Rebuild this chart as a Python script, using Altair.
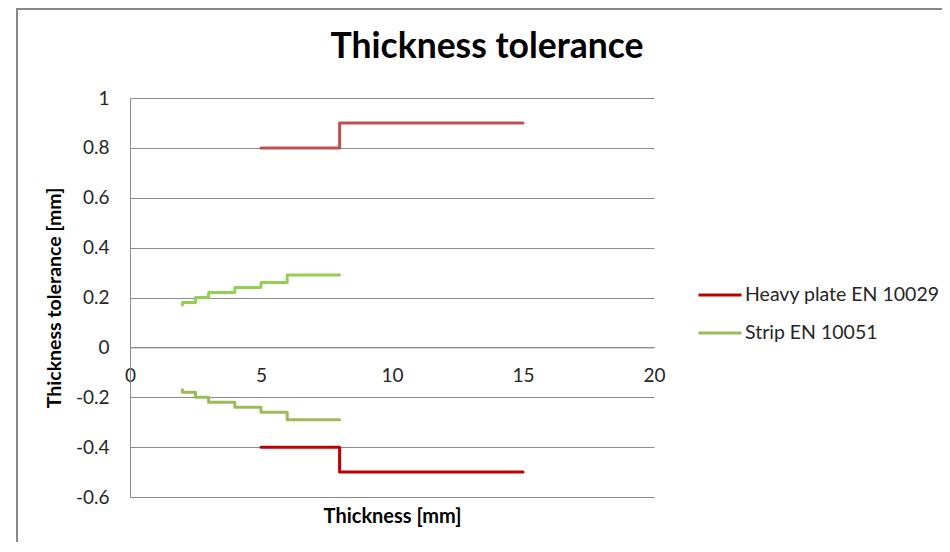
import altair as alt
import pandas as pd

# ---- data ----
heavy_x = [5, 8, 15]
heavy_upper = [0.8, 0.9, 0.9]
heavy_lower = [-0.4, -0.5, -0.5]

strip_x = [2, 2, 2.5, 3, 4, 5, 6, 8]
strip_upper = [0.17, 0.18, 0.20, 0.22, 0.24, 0.26, 0.29, 0.29]
strip_lower = [-0.17, -0.18, -0.20, -0.22, -0.24, -0.26, -0.29, -0.29]

series_names = ["Heavy plate EN 10029", "Strip EN 10051",
                "Heavy plate EN 10029 (upper)", "Strip EN 10051 (upper)"]
series_colors = ["#C00000", "#9BBB59", "#C0504D", "#92D050"]

x_ticks = [0, 5, 10, 15, 20]
y_ticks = [-0.6, -0.4, -0.2, 0, 0.2, 0.4, 0.6, 0.8, 1.0]

rows = []
for name, xs, ys in [
    (series_names[2], heavy_x, heavy_upper),
    (series_names[0], heavy_x, heavy_lower),
    (series_names[3], strip_x, strip_upper),
    (series_names[1], strip_x, strip_lower),
]:
    for i, (xv, yv) in enumerate(zip(xs, ys)):
        rows.append({"x": xv, "y": yv, "series": name, "order": i})
df = pd.DataFrame(rows)

FONT = "Lato"
W, H = 524, 399
y_min, y_max = -0.6, 1.0
zero_offset = -H * (0 - y_min) / (y_max - y_min)

lines = alt.Chart(df).mark_line(
    interpolate="step-after", strokeWidth=3, strokeCap="round", strokeJoin="round"
).encode(
    x=alt.X("x:Q", scale=alt.Scale(domain=[0, 20], nice=False),
            axis=alt.Axis(values=x_ticks, grid=False, ticks=False,
                          offset=zero_offset, domainColor="#8c8c8c",
                          labelPadding=28, labelBaseline="middle", labelFlush=False,
                          labelFontSize=19, labelColor="#262626", labelFont=FONT,
                          title="Thickness [mm]", titleFont=FONT, titleFontSize=20,
                          titleFontWeight="bold", titleColor="#000000",
                          titleY=175, titleBaseline="alphabetic")),
    y=alt.Y("y:Q", scale=alt.Scale(domain=[y_min, y_max], nice=False, zero=False),
            axis=alt.Axis(values=y_ticks, grid=True, gridColor="#8c8c8c",
                          ticks=False, domainColor="#8c8c8c", labelFlush=False,
                          labelPadding=21, labelFontSize=19, labelColor="#262626",
                          labelFont=FONT,
                          labelExpr="datum.value < 0 ? '-' + format(-datum.value, '~g') : format(datum.value, '~g')",
                          title="Thickness tolerance [mm]", titleFont=FONT,
                          titleFontSize=19.5, titleFontWeight="bold", titleColor="#000000",
                          titleX=-76, titleY=H / 2, titleAlign="center",
                          titleBaseline="middle", titleAngle=-90)),
    color=alt.Color("series:N",
                    scale=alt.Scale(domain=series_names, range=series_colors),
                    legend=alt.Legend(orient="none", legendX=567, legendY=187,
                                      title=None, values=series_names[:2],
                                      symbolType="stroke", symbolSize=1849,
                                      symbolStrokeWidth=3, clipHeight=20,
                                      rowPadding=18, labelOffset=2, padding=0,
                                      labelLimit=400,
                                      labelFont=FONT, labelFontSize=19.5,
                                      labelColor="#262626")),
    detail="series:N",
    order="order:Q",
)

frame = alt.Chart(pd.DataFrame({"a": [0]})).mark_rect(
    filled=False, stroke="#878787", strokeWidth=2
).encode(
    x=alt.value(-113), x2=alt.value(900), y=alt.value(-89), y2=alt.value(600)
)

chart = alt.layer(frame, lines).properties(
    width=W, height=H,
    padding={"left": 122, "top": 90, "right": 288, "bottom": 45},
    autosize=alt.AutoSizeParams(type="none"),
    title=alt.TitleParams("Thickness tolerance", font=FONT, fontSize=35.5,
                          fontWeight="bold", color="#000000", anchor="middle",
                          frame="group", dx=95, offset=-85, baseline="alphabetic"),
).configure_view(stroke="transparent")

chart.save("out.html", embed_options={"renderer": "svg", "actions": False})
